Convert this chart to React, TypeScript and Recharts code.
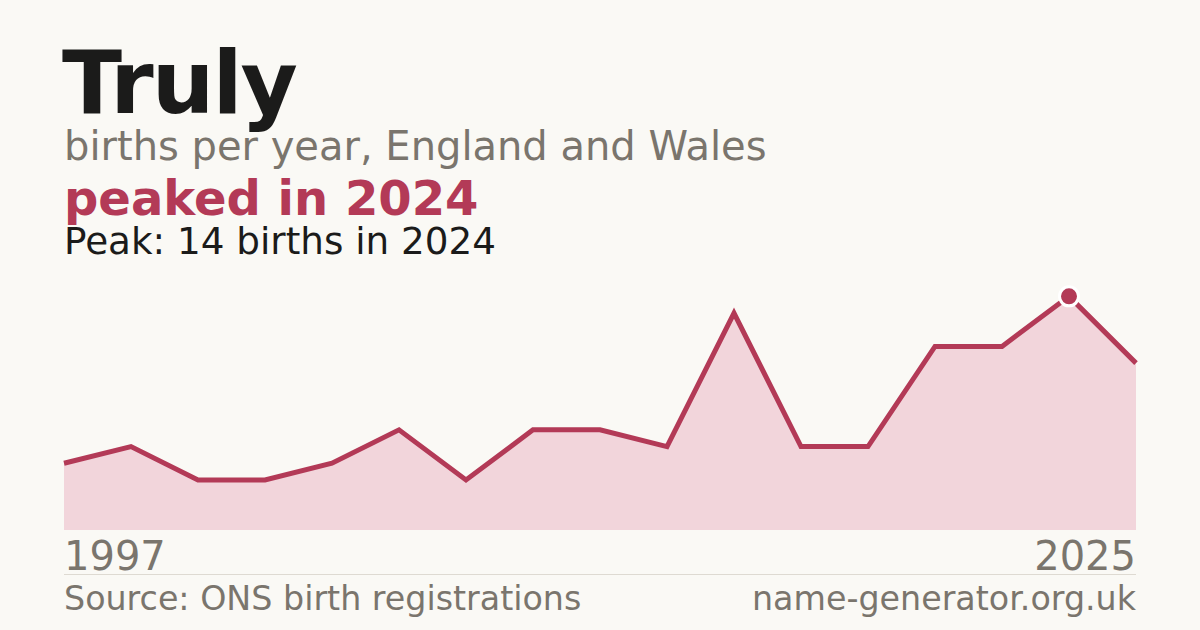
import React from "react";
import { AreaChart, Area, XAxis, YAxis, ReferenceDot } from "recharts";

const years = [1997, 1998, 2000, 2002, 2004, 2006, 2008, 2010, 2012, 2014, 2016, 2018, 2020, 2022, 2023, 2024, 2025];
const births = [4, 5, 3, 3, 4, 6, 3, 6, 6, 5, 13, 5, 5, 11, 11, 14, 10];
const tickYears = [1997, 2025];
const peakYear = 2024;
const peakValue = 14;

const data = years.map((y, i) => ({ year: y, births: births[i] }));

const BG = "#faf9f5";
const CRIMSON = "#b33a57";
const FILL = "#f2d5db";
const GRAY = "#7a756d";
const FONT = "'DejaVu Sans', sans-serif";

const Tick = (props: any) => {
  const { x, y, payload } = props;
  const isFirst = payload.value === tickYears[0];
  return (
    <text x={x} y={y + 32} textAnchor={isFirst ? "start" : "end"} fill={GRAY} fontSize={40} fontFamily={FONT}>
      {payload.value}
    </text>
  );
};

export default function App() {
  return (
    <div style={{ position: "fixed", left: 0, top: 0, width: 1200, height: 630, background: BG, overflow: "hidden" }}>
      <svg width={1200} height={630} style={{ position: "absolute", left: 0, top: 0 }}>
        <text x={62} y={113} fontSize={88} fontWeight="bold" fill="#1b1b1a" fontFamily={FONT} letterSpacing={-2}>Truly</text>
        <text x={64} y={160} fontSize={40} fill={GRAY} fontFamily={FONT}>births per year, England and Wales</text>
        <text x={64} y={215} fontSize={48} fontWeight="bold" fill={CRIMSON} fontFamily={FONT}>peaked in 2024</text>
        <text x={64} y={254} fontSize={37.3} fill="#1b1b1a" fontFamily={FONT}>Peak: 14 births in 2024</text>
        <line x1={64} x2={1136} y1={574.5} y2={574.5} stroke="#dedad2" strokeWidth={1} />
        <text x={64} y={610} fontSize={33.3} fill={GRAY} fontFamily={FONT}>Source: ONS birth registrations</text>
        <text x={1136} y={610} fontSize={33.3} fill={GRAY} fontFamily={FONT} textAnchor="end">name-generator.org.uk</text>
      </svg>
      <div style={{ position: "absolute", left: 0, top: 0 }}>
        <AreaChart width={1200} height={630} data={data} margin={{ top: 273, right: 64, left: 64, bottom: 70 }}>
          <XAxis dataKey="year" ticks={tickYears} tick={<Tick />} axisLine={false} tickLine={false} height={30} interval={0} />
          <YAxis hide domain={[0, 15.4]} />
          <Area
            type="linear"
            dataKey="births"
            stroke={CRIMSON}
            strokeWidth={5}
            fill={FILL}
            fillOpacity={1}
            dot={false}
            activeDot={false}
            isAnimationActive={false}
          />
          <ReferenceDot x={peakYear} y={peakValue} r={9.5} fill={CRIMSON} stroke="#ffffff" strokeWidth={3} />
        </AreaChart>
      </div>
    </div>
  );
}
